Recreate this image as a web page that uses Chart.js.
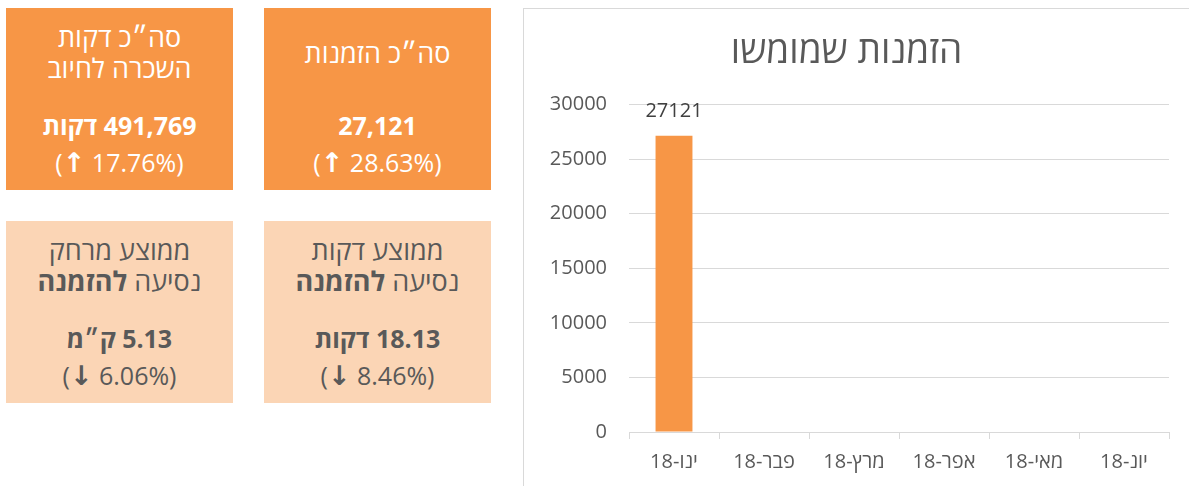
<!DOCTYPE html>
<html lang="he">
<head>
<meta charset="utf-8">
<script src="https://cdn.jsdelivr.net/npm/chart.js@4.4.1/dist/chart.umd.min.js"></script>
<style>
  html, body { margin:0; padding:0; width:1189px; height:486px; overflow:hidden; background:#fff; }
  body { position:relative; font-family:"Open Sans","Liberation Sans","DejaVu Sans",sans-serif; }
  .box { position:absolute; width:227px; height:182px; direction:rtl; }
  .dark { background:#F79646; color:#FFFFFF; }
  .light { background:#FBD5B5; color:#595959; }
  .ln { position:absolute; left:0; right:0; text-align:center; white-space:nowrap; line-height:30px; font-size:25px; }
  .t { font-size:27px; }
  .b { font-weight:bold; }
  .pct { direction:ltr; font-size:25px; }
  .arr { font-family:"DejaVu Sans",sans-serif; font-size:27px; font-weight:bold; }
  #wrap { position:absolute; left:523px; top:8px; width:700px; height:520px; border-left:1px solid #D9D9D9; border-top:1px solid #D9D9D9; }
  #c { position:absolute; left:0; top:0; }
</style>
</head>
<body>
<div id="boxes"></div>
<div id="wrap"><canvas id="c" width="677" height="490" style="direction:rtl"></canvas></div>
<script>
// ---- KPI data ----
const kpiTitles = [["סה״כ דקות", "השכרה לחיוב"], ["סה״כ הזמנות"], ["ממוצע מרחק", "נסיעה <b>להזמנה</b>"], ["ממוצע דקות", "נסיעה <b>להזמנה</b>"]];
const kpiValues = ["491,769 דקות", "27,121", "5.13 ק״מ", "18.13 דקות"];
const kpiArrows = ["↑", "↑", "↓", "↓"];
const kpiChanges = ["17.76%", "28.63%", "6.06%", "8.46%"];

// ---- Chart data ----
const chartTitle = "הזמנות שמומשו";
const months = ["ינו-18", "פבר-18", "מרץ-18", "אפר-18", "מאי-18", "יונ-18"];
const orders = [27121, null, null, null, null, null];
const yTicks = [0, 5000, 10000, 15000, 20000, 25000, 30000];

// ---- Build KPI boxes ----
const boxPos = [
  {left:6, top:8, cls:"dark"}, {left:264, top:8, cls:"dark"},
  {left:6, top:221, cls:"light"}, {left:264, top:221, cls:"light"}
];
const boxesEl = document.getElementById("boxes");
kpiTitles.forEach((t, i) => {
  const p = boxPos[i];
  const d = document.createElement("div");
  d.className = "box " + p.cls;
  d.style.left = p.left + "px"; d.style.top = p.top + "px";
  let html = "";
  if (t.length === 2) {
    html += `<div class="ln t" style="top:${29-15}px">${t[0]}</div>`;
    html += `<div class="ln t" style="top:${60-15}px">${t[1]}</div>`;
  } else {
    html += `<div class="ln t" style="top:${45-15}px">${t[0]}</div>`;
  }
  html += `<div class="ln b" style="top:${117-15}px">${kpiValues[i]}</div>`;
  html += `<div class="ln pct" style="top:${154-15}px">(<span class="arr">${kpiArrows[i]}</span> ${kpiChanges[i]})</div>`;
  d.innerHTML = html;
  boxesEl.appendChild(d);
});

// ---- Chart ----
const FONT = '"Open Sans","Liberation Sans",sans-serif';
const valueLabels = {
  id: "valueLabels",
  afterDatasetsDraw(chart) {
    const ctx = chart.ctx;
    const meta = chart.getDatasetMeta(0);
    ctx.save();
    ctx.font = '20px ' + FONT;
    ctx.fillStyle = "#404040";
    ctx.textAlign = "center";
    ctx.textBaseline = "middle";
    meta.data.forEach((el, i) => {
      const v = chart.data.datasets[0].data[i];
      if (v === null || v === undefined) return;
      ctx.fillText(String(v), el.x, el.y - 25);
    });
    ctx.restore();
  }
};

new Chart(document.getElementById("c"), {
  type: "bar",
  data: {
    labels: months,
    datasets: [{ data: orders, backgroundColor: "#F79646", borderWidth: 0, categoryPercentage: 1, barPercentage: 0.41 }]
  },
  options: {
    responsive: false,
    animation: false,
    devicePixelRatio: 1,
    layout: { padding: { left: 0, right: 32, top: 0, bottom: 0 } },
    plugins: {
      legend: { display: false },
      tooltip: { enabled: false },
      title: {
        display: true, text: chartTitle, color: "#595959",
        font: { family: FONT, size: 37, weight: "normal" },
        padding: { top: 21, bottom: 30 }
      }
    },
    scales: {
      x: {
        grid: { display: true, drawOnChartArea: false, drawTicks: true, tickLength: 7, color: "#D9D9D9", offset: true },
        border: { display: true, color: "#D9D9D9", width: 1 },
        ticks: { color: "#595959", font: { family: FONT, size: 20 }, padding: 11, maxRotation: 0 },
        afterFit(s) { s.height = 67; }
      },
      y: {
        min: 0, max: 30000,
        afterBuildTicks(s) { s.ticks = yTicks.map(v => ({ value: v })); },
        grid: { color: "#D9D9D9", lineWidth: 1, drawTicks: false },
        border: { display: false },
        ticks: { color: "#595959", font: { family: FONT, size: 20 }, padding: 22, callback: v => String(v) },
        afterFit(s) { s.width = 105; }
      }
    }
  },
  plugins: [valueLabels]
});
</script>
</body>
</html>
